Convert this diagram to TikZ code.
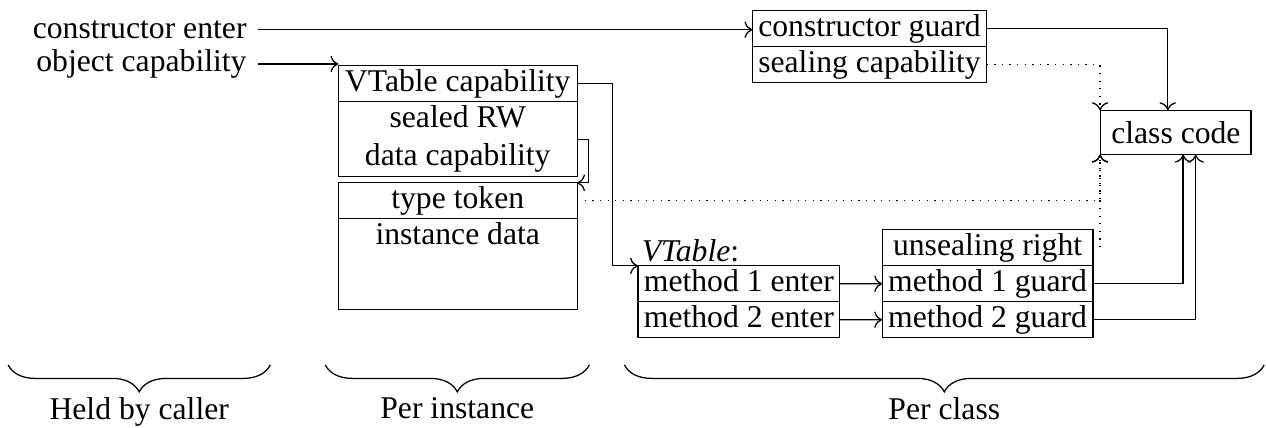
\documentclass[tikz,border=0pt]{standalone}
\usepackage{fontspec}
\setmainfont{Liberation Serif}
\usetikzlibrary{arrows.meta,calc,positioning,decorations.pathreplacing}

\begin{document}
\begin{tikzpicture}[x=1cm,y=1cm,
  cell/.style={draw,outer sep=0pt,inner xsep=1.75pt,inner ysep=1pt},
  row/.style={cell,text height=7pt,text depth=2.35pt},
  flow/.style={->},
  weak/.style={->,dotted},
  grp/.style={decorate,decoration={brace,mirror,amplitude=8.5pt}}]
  \useasboundingbox (0,0) rectangle (14.05,-4.74);
  % Held by the caller.
  \node[anchor=east] (center) at (2.86,-0.33) {constructor enter};
  \node[anchor=east] (ocap) at (2.86,-0.71) {object capability};
  % Instance layout.
  \node[row,minimum width=2.65cm] (vtcap) at (5.08,-0.93) {VTable capability};
  \node[cell,align=center,minimum width=2.65cm,minimum height=0.83cm,below=0pt of vtcap] (rwcap)
    {sealed RW\\data capability};
  \node[row,minimum width=2.65cm,below=0.07cm of rwcap] (ttok) {type token};
  \node[row,minimum width=2.65cm,text depth=19.7pt,below=0pt of ttok] (idata) {instance data};
  % Constructor and class code.
  \node[row,minimum width=2.60cm] (cguard) at (9.65,-0.32) {constructor guard};
  \node[row,minimum width=2.60cm,below=0pt of cguard] (seal) {sealing capability};
  \node[draw] (ccode) at (13.05,-1.47) {class code};
  % VTable and method guards.
  \node[row,minimum width=2.24cm] (m1enter) at (8.20,-3.15) {method 1 enter};
  \node[row,minimum width=2.24cm,below=0pt of m1enter] (m2enter) {method 2 enter};
  \node[anchor=south west,inner sep=1pt] (vtlabel) at (m1enter.north west) {\emph{VTable}:};
  \node[row,minimum width=2.34cm] (unseal) at (10.96,-2.75) {unsealing right};
  \node[row,minimum width=2.34cm,below=0pt of unseal] (m1guard) {method 1 guard};
  \node[row,minimum width=2.34cm,below=0pt of m1guard] (m2guard) {method 2 guard};

  % Connections.
  \draw[flow] (center.east) -- (center.east -| cguard.west);
  \draw[flow] (ocap.east) -- (ocap.east -| vtcap.west);
  \draw[flow] (vtcap.east) -- ++(0.39,0) |- (m1enter.north west);
  \draw[flow] (rwcap.east) -- ++(0.13,0) |- (ttok.north east);
  \draw[flow] (m1enter) -- (m1guard);
  \draw[flow] (m2enter) -- (m2guard);
  \draw[flow] (cguard.east) -| ([xshift=-0.09cm]ccode.north);
  \draw[weak] (seal.east) -| (ccode.north west);
  \draw[weak] (ttok.east) -| (ccode.south west);
  \draw[weak] (unseal.east) -| (ccode.south west);
  \draw[flow] (m1guard.east) -| ([xshift=0.08cm]ccode.south);
  \draw[flow] (m2guard.east) -| ([xshift=0.22cm]ccode.south);

  % Who holds what.
  \draw[grp] (0.09,-4.05) -- node[below=0.24cm] (lcaller) {Held by caller} (3.00,-4.05);
  \draw[grp] (3.61,-4.05) -- node[below=0.24cm] (linst) {Per instance} (6.54,-4.05);
  \draw[grp] (6.93,-4.05) -- node[below=0.24cm] (lclass) {Per class} (14.03,-4.05);
\end{tikzpicture}
\end{document}
